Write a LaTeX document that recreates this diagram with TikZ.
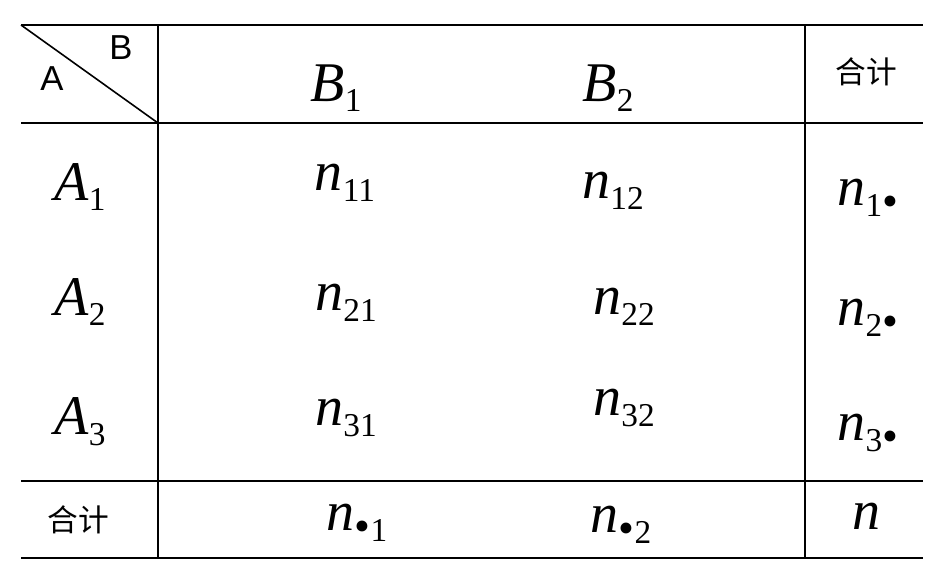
\documentclass[tikz,border=0pt]{standalone}
\usepackage{fontspec}
\setmainfont{Liberation Serif}
\newfontfamily\cjk{Noto Sans CJK SC}
\newfontfamily\sans{Liberation Sans}
\newcommand{\vsub}[2]{{\fontsize{42}{44}\selectfont\itshape #1}\raisebox{-8pt}{\fontsize{25}{27}\selectfont #2}}
\newcommand{\bt}{{\fontsize{34}{36}\selectfont\textbullet}}
\begin{document}
\begin{tikzpicture}[x=0.75pt,y=-0.75pt,line width=1.6pt,
  cell/.style={inner sep=0pt,anchor=center},
  lab/.style={inner sep=0pt,font=\sans\fontsize{26}{28}\selectfont},
  hz/.style={inner sep=0pt,font=\cjk\fontsize{23}{25}\selectfont}]
\useasboundingbox (0,0) rectangle (952,578);
\coordinate (tl) at (21,25); \coordinate (tr) at (923,25);
\coordinate (hl) at (21,123); \coordinate (hr) at (923,123);
\coordinate (fl) at (21,481); \coordinate (fr) at (923,481);
\coordinate (bl) at (21,558); \coordinate (br) at (923,558);
\coordinate (v1t) at (158,25); \coordinate (v1b) at (158,558);
\coordinate (v2t) at (805,25); \coordinate (v2b) at (805,558);
\draw (tl) -- (tr); \draw (hl) -- (hr); \draw (fl) -- (fr); \draw (bl) -- (br);
\draw (v1t) -- (v1b); \draw (v2t) -- (v2b);
\draw[line width=1.2pt] (tl) -- (hl -| v1t);
\node[lab] (b) at (121,48) {B};
\node[lab] (a) at (52,79) {A};
\node[cell] (B1) at (336,88) {\vsub{B}{1}};
\node[cell] (B2) at (608,88) {\vsub{B}{2}};
\node[hz] (h1) at (866,72) {合计};
\node[cell] (A1) at (80,187) {\vsub{A}{1}};
\node[cell] (A2) at (80,302) {\vsub{A}{2}};
\node[cell] (A3) at (80,422) {\vsub{A}{3}};
\node[cell] (n11) at (345,183) {\vsub{n}{11}};
\node[cell] (n12) at (613,191) {\vsub{n}{12}};
\node[cell] (n1) at (868,198) {\vsub{n}{1\bt}};
\node[cell] (n21) at (346,303) {\vsub{n}{21}};
\node[cell] (n22) at (624,307) {\vsub{n}{22}};
\node[cell] (n2) at (868,318) {\vsub{n}{2\bt}};
\node[cell] (n31) at (346,418) {\vsub{n}{31}};
\node[cell] (n32) at (624,408) {\vsub{n}{32}};
\node[cell] (n3) at (868,433) {\vsub{n}{3\bt}};
\node[hz] (h2) at (78,520) {合计};
\node[cell] (n01) at (357,523) {\vsub{n}{\bt1}};
\node[cell] (n02) at (621,525) {\vsub{n}{\bt2}};
\node[cell] (nn) at (866,516) {\fontsize{42}{44}\selectfont\itshape n};
\end{tikzpicture}
\end{document}
